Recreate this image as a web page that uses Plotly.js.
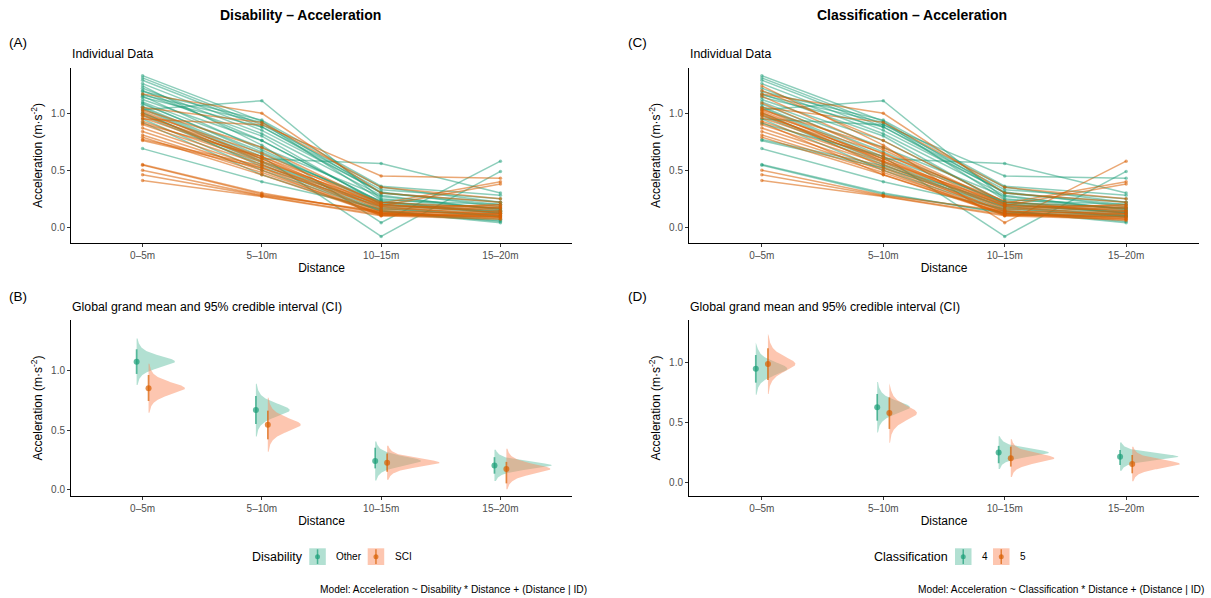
<!DOCTYPE html>
<html><head><meta charset="utf-8">
<script src="https://cdn.plot.ly/plotly-3.0.1.min.js"></script>
<style>html,body{margin:0;padding:0;background:#fff}#chart{width:1211px;height:598px}</style>
</head><body><div id="chart"></div>
<script>
// ---------------- DATA ----------------
const distances = ['0–5m', '5–10m', '10–15m', '15–20m'];

// Individual trials (one line each), acceleration (m·s-2) per distance segment
const accel_0_5   = [1.33,1.31,1.29,1.26,1.22,1.19,1.17,1.16,1.14,1.12,1.03,1.06,1.05,0.69,1.00,0.98,0.95,1.08,1.10,1.24,1.20,1.15,1.09,1.04,1.01,0.92,0.77,0.76,0.55,0.545,0.95,0.91,0.50,0.46,0.41,1.17,1.05,1.03,1.00,0.98,0.96,0.93,0.90,0.87,0.84,0.81,0.79,1.02,0.99];
const accel_5_10  = [0.93,0.90,0.88,0.85,0.82,0.94,0.80,0.92,0.88,0.76,1.11,0.62,0.60,0.40,0.57,0.55,0.50,0.66,0.70,0.72,0.76,0.68,0.64,0.58,0.53,0.46,0.54,0.52,0.30,0.29,0.90,0.62,0.28,0.275,0.27,1.00,0.92,0.70,0.65,0.62,0.60,0.57,0.55,0.52,0.50,0.48,0.46,0.60,0.58];
const accel_10_15 = [0.30,0.35,0.33,0.31,0.28,0.36,0.20,0.24,0.30,0.22,0.25,-0.08,0.56,0.16,0.17,0.15,0.14,0.21,0.27,0.04,0.22,0.19,0.23,0.18,0.14,0.12,0.20,0.18,0.12,0.13,0.45,0.22,0.14,0.11,0.10,0.30,0.35,0.20,0.18,0.16,0.15,0.13,0.12,0.11,0.10,0.12,0.11,0.19,0.21];
const accel_15_20 = [0.20,0.22,0.25,0.18,0.15,0.28,0.12,0.20,0.22,0.14,0.16,0.49,0.30,0.10,0.09,0.05,0.04,0.13,0.16,0.58,0.17,0.14,0.12,0.10,0.07,0.06,0.13,0.11,0.09,0.10,0.43,0.17,0.12,0.09,0.07,0.22,0.25,0.15,0.19,0.20,0.18,0.17,0.14,0.12,0.11,0.09,0.08,0.38,0.40];
const disability     = ['Other','Other','Other','Other','Other','Other','Other','Other','Other','Other','Other','Other','Other','Other','Other','Other','Other','Other','Other','Other','Other','Other','Other','Other','Other','Other','SCI','SCI','SCI','SCI','SCI','SCI','SCI','SCI','SCI','SCI','SCI','SCI','SCI','SCI','SCI','SCI','SCI','SCI','SCI','SCI','SCI','SCI','SCI'];
const classification = ['4','4','4','4','4','4','4','4','4','4','4','4','4','4','4','4','4','4','4','5','5','5','5','5','5','5','4','4','4','4','4','4','5','5','5','5','5','5','5','5','5','5','5','5','5','5','5','5','5'];

// Posterior grand means and 95% CI — Disability model
const disLevels = ['Other', 'SCI'];
const otherMean = [1.079, 0.669, 0.237, 0.200];
const otherLo   = [0.975, 0.551, 0.175, 0.130];
const otherHi   = [1.184, 0.788, 0.350, 0.270];
const sciMean   = [0.853, 0.545, 0.223, 0.170];
const sciLo     = [0.746, 0.421, 0.147, 0.048];
const sciHi     = [0.966, 0.664, 0.300, 0.230];

// Posterior grand means and 95% CI — Classification model
const clsLevels = ['4', '5'];
const class4Mean = [0.950, 0.627, 0.248, 0.214];
const class4Lo   = [0.833, 0.515, 0.159, 0.145];
const class4Hi   = [1.064, 0.738, 0.304, 0.270];
const class5Mean = [0.989, 0.579, 0.201, 0.153];
const class5Lo   = [0.855, 0.446, 0.131, 0.075];
const class5Hi   = [1.120, 0.710, 0.298, 0.228];

const titles = ['Disability – Acceleration', 'Classification – Acceleration'];
const captions = ['Model: Acceleration ~ Disability * Distance + (Distance | ID)',
                  'Model: Acceleration ~ Classification * Distance + (Distance | ID)'];
const legendTitles = ['Disability', 'Classification'];

// ---------------- STYLE / LAYOUT ----------------
const W = 1211, H = 598;
const px = x => x / W, py = y => 1 - y / H;
const FONT = 'Liberation Sans, Arial, Helvetica, sans-serif';
const lineCol = ['rgba(27,158,119,0.5)', 'rgba(217,95,2,0.55)'];
const fillCol = ['rgba(102,194,165,0.5)', 'rgba(252,141,98,0.5)'];
const ptCol   = ['rgba(27,158,119,0.7)', 'rgba(217,95,2,0.7)'];
const xIdx = distances.map((_, k) => k);

const traces = [];

function addIndividual(groupArr, levels, xa, ya) {
  for (let i = 0; i < accel_0_5.length; i++) {
    const c = lineCol[levels.indexOf(groupArr[i])];
    traces.push({
      type: 'scatter', mode: 'lines+markers', x: xIdx,
      y: [accel_0_5[i], accel_5_10[i], accel_10_15[i], accel_15_20[i]],
      xaxis: xa, yaxis: ya, line: {color: c, width: 1.5},
      marker: {color: c, size: 3.5}, showlegend: false, hoverinfo: 'skip'
    });
  }
}

function addHalfEyes(groups, xa, ya) {
  const df = 4, maxW = 0.48, N = 160, Z = 3.7;
  let sMin = Infinity;
  groups.forEach(g => g.mean.forEach((m, k) => { sMin = Math.min(sMin, (g.hi[k] - g.lo[k]) / 3.92); }));
  const dens = z => Math.pow(1 + z * z / df, -(df + 1) / 2);
  groups.forEach((g, gi) => {
    const off = gi === 0 ? -0.05 : 0.05;
    g.mean.forEach((m, k) => {
      const s = (g.hi[k] - g.lo[k]) / 3.92;
      const xs = [], ys = [];
      for (let j = 0; j <= N; j++) {
        const z = -Z + 2 * Z * j / N;
        xs.push(k + off + maxW * (sMin / s) * dens(z));
        ys.push(m + z * s);
      }
      xs.push(k + off, k + off); ys.push(m + Z * s, m - Z * s);
      traces.push({type: 'scatter', mode: 'lines', x: xs, y: ys, fill: 'toself',
        fillcolor: fillCol[gi], line: {width: 0}, xaxis: xa, yaxis: ya,
        showlegend: false, hoverinfo: 'skip'});
    });
  });
  groups.forEach((g, gi) => {
    const off = gi === 0 ? -0.05 : 0.05;
    traces.push({type: 'scatter', mode: 'markers', x: xIdx.map(k => k + off), y: g.mean,
      xaxis: xa, yaxis: ya, marker: {color: ptCol[gi], size: 6},
      error_y: {type: 'data', symmetric: false, array: g.hi.map((h, k) => h - g.mean[k]),
        arrayminus: g.lo.map((l, k) => g.mean[k] - l), width: 0, thickness: 1.7, color: ptCol[gi]},
      showlegend: false, hoverinfo: 'skip'});
  });
}

addIndividual(disability, disLevels, 'x', 'y');
addHalfEyes([{mean: otherMean, lo: otherLo, hi: otherHi}, {mean: sciMean, lo: sciLo, hi: sciHi}], 'x2', 'y2');
addIndividual(classification, clsLevels, 'x3', 'y3');
addHalfEyes([{mean: class4Mean, lo: class4Lo, hi: class4Hi}, {mean: class5Mean, lo: class5Lo, hi: class5Hi}], 'x4', 'y4');

function xax(d0, d1, anchor) {
  return {domain: [px(d0), px(d1)], anchor: anchor, range: [-0.6, 3.6],
    tickvals: xIdx, ticktext: distances, showline: true, linecolor: '#000', linewidth: 1,
    ticks: 'outside', ticklen: 3, tickcolor: '#333', tickfont: {size: 10, color: '#4d4d4d'},
    showgrid: false, zeroline: false, fixedrange: true,
    title: {text: 'Distance', font: {size: 12, color: '#000'}, standoff: 3}};
}
function yax(top, bot, range, anchor) {
  return {domain: [py(bot), py(top)], anchor: anchor, range: range,
    tickvals: [0, 0.5, 1], ticktext: ['0.0', '0.5', '1.0'], showline: true, linecolor: '#000', linewidth: 1,
    ticks: 'outside', ticklen: 3, tickcolor: '#333', tickfont: {size: 10, color: '#4d4d4d'},
    showgrid: false, zeroline: false, fixedrange: true,
    title: {text: 'Acceleration (m·s<sup>-2</sup>)', font: {size: 12, color: '#000'}, standoff: 5}};
}

const ann = [];
const text = (x, y, t, size, anchor, extra) => ann.push(Object.assign({xref: 'paper', yref: 'paper',
  x: px(x), y: py(y), text: t, showarrow: false, xanchor: anchor, yanchor: 'middle',
  font: {size: size, color: '#000', family: FONT}}, extra || {}));

text(300, 15, '<b>' + titles[0] + '</b>', 14, 'center');
text(912, 15, '<b>' + titles[1] + '</b>', 14, 'center');
text(7, 43, '(A)', 13.5, 'left'); text(7, 296, '(B)', 13.5, 'left');
text(626, 43, '(C)', 13.5, 'left'); text(626, 296, '(D)', 13.5, 'left');
text(70, 54, 'Individual Data', 12.3, 'left'); text(688, 54, 'Individual Data', 12.3, 'left');
text(70, 307, 'Global grand mean and 95% credible interval (CI)', 12.3, 'left');
text(688, 307, 'Global grand mean and 95% credible interval (CI)', 12.3, 'left');
text(588.5, 589.5, captions[0], 10.2, 'right'); text(1206, 589.5, captions[1], 10.2, 'right');

const shapes = [];
function legend(titleX, title, keys) {
  text(titleX, 556.7, title, 12.5, 'left');
  keys.forEach((k, i) => {
    shapes.push({type: 'rect', xref: 'paper', yref: 'paper', x0: px(k.x), x1: px(k.x + 16.5),
      y0: py(565), y1: py(548.3), fillcolor: fillCol[i], line: {width: 0}});
    const cx = k.x + 8.25;
    shapes.push({type: 'line', xref: 'paper', yref: 'paper', x0: px(cx), x1: px(cx),
      y0: py(564), y1: py(549.3), line: {color: ptCol[i], width: 1.5}});
    shapes.push({type: 'circle', xref: 'paper', yref: 'paper', x0: px(cx - 2.5), x1: px(cx + 2.5),
      y0: py(559.2), y1: py(554.2), fillcolor: ptCol[i], line: {width: 0}});
    text(k.x + 25, 556.7, k.label, 10, 'left');
  });
}
legend(250, legendTitles[0], [{x: 309.3, label: disLevels[0]}, {x: 367.7, label: disLevels[1]}]);
legend(871.5, legendTitles[1], [{x: 955, label: clsLevels[0]}, {x: 993, label: clsLevels[1]}]);

const layout = {
  width: W, height: H, margin: {l: 0, r: 0, t: 0, b: 0},
  paper_bgcolor: '#fff', plot_bgcolor: '#fff', showlegend: false,
  font: {family: FONT, color: '#000'},
  xaxis: xax(71, 572, 'y'), yaxis: yax(68, 243, [-0.138, 1.397], 'x'),
  xaxis2: xax(71, 572, 'y2'), yaxis2: yax(320, 496, [-0.059, 1.432], 'x2'),
  xaxis3: xax(689, 1199, 'y3'), yaxis3: yax(68, 243, [-0.138, 1.397], 'x3'),
  xaxis4: xax(689, 1199, 'y4'), yaxis4: yax(320, 496, [-0.115, 1.357], 'x4'),
  annotations: ann, shapes: shapes
};
Plotly.newPlot('chart', traces, layout, {staticPlot: true, displayModeBar: false});
</script></body></html>
